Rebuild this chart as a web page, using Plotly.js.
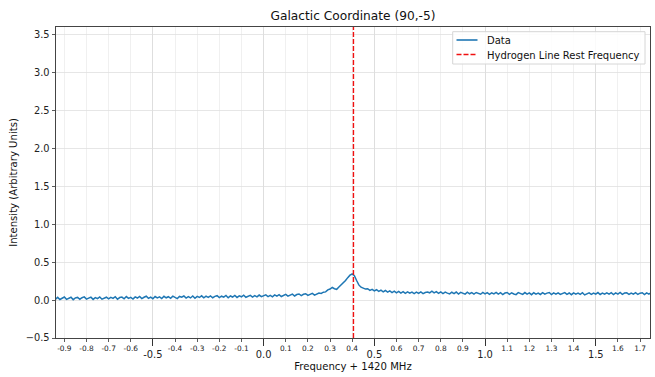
<!DOCTYPE html>
<html><head><meta charset="utf-8">
<script src="https://cdn.plot.ly/plotly-3.0.1.min.js"></script>
<style>html,body{margin:0;padding:0;background:#fff}#chart{width:655px;height:377px}</style>
</head><body><div id="chart"></div>
<script>
// Frequency offsets (MHz, relative to 1420 MHz): channel start and spacing
const freqStart = -0.94;
const freqStep = 0.01;
// Intensity (arbitrary units)
const intensity = [
0.012,0.036,0.008,0.030,0.040,0.010,0.026,0.037,0.006,0.029,
0.035,0.011,0.031,0.042,0.013,0.027,0.039,0.009,0.033,0.018,
0.041,0.012,0.029,0.038,0.015,0.035,0.022,0.044,0.011,0.033,
0.039,0.017,0.046,0.023,0.035,0.013,0.042,0.027,0.048,0.019,
0.037,0.051,0.022,0.040,0.018,0.047,0.029,0.043,0.021,0.050,
0.030,0.044,0.023,0.052,0.035,0.020,0.048,0.037,0.054,0.027,
0.045,0.028,0.053,0.024,0.049,0.034,0.056,0.030,0.051,0.036,
0.054,0.031,0.049,0.058,0.033,0.051,0.038,0.060,0.030,0.054,
0.040,0.061,0.035,0.056,0.043,0.064,0.037,0.055,0.062,0.040,
0.058,0.042,0.066,0.045,0.060,0.068,0.046,0.063,0.043,0.069,
0.051,0.072,0.047,0.066,0.075,0.052,0.069,0.078,0.054,0.073,
0.080,0.058,0.076,0.084,0.061,0.080,0.088,0.065,0.084,0.092,
0.088,0.104,0.108,0.134,0.146,0.166,0.150,0.142,0.172,0.198,
0.236,0.258,0.296,0.328,0.344,0.322,0.258,0.200,0.170,0.158,
0.145,0.150,0.128,0.142,0.120,0.136,0.114,0.130,0.109,0.126,
0.104,0.122,0.099,0.118,0.095,0.114,0.092,0.111,0.089,0.108,
0.091,0.106,0.086,0.104,0.088,0.107,0.085,0.100,0.106,0.096,
0.117,0.094,0.111,0.089,0.108,0.086,0.105,0.091,0.082,0.103,
0.085,0.106,0.080,0.102,0.087,0.078,0.104,0.083,0.099,0.079,
0.100,0.084,0.077,0.101,0.082,0.098,0.075,0.096,0.081,0.102,
0.078,0.097,0.073,0.093,0.100,0.076,0.095,0.080,0.072,0.098,
0.091,0.075,0.099,0.078,0.094,0.071,0.096,0.079,0.093,0.074,
0.097,0.077,0.092,0.100,0.073,0.094,0.079,0.096,0.075,0.091,
0.098,0.076,0.093,0.071,0.095,0.078,0.092,0.074,0.097,0.068,
0.080,0.096,0.075,0.093,0.078,0.099,0.074,0.092,0.077,0.095,
0.079,0.097,0.073,0.094,0.078,0.100,0.076,0.092,0.095,0.075,
0.093,0.078,0.098,0.074,0.091,0.096,0.072,0.094,0.079,0.095
];
const hydrogenLine = 0.40575;
const xRange = [-0.9376, 1.745];
const yRange = [-0.5, 3.6];
const minorTickVals = [-0.9,-0.8,-0.7,-0.6,-0.4,-0.3,-0.2,-0.1,0.1,0.2,0.3,0.4,0.6,0.7,0.8,0.9,1.1,1.2,1.3,1.4,1.6,1.7];
const minorTickText = ["-0.9","-0.8","-0.7","-0.6","-0.4","-0.3","-0.2","-0.1","0.1","0.2","0.3","0.4","0.6","0.7","0.8","0.9","1.1","1.2","1.3","1.4","1.6","1.7"];
const majorTickVals = [-0.5, 0.0, 0.5, 1.0, 1.5];
const majorTickText = ["-0.5","0.0","0.5","1.0","1.5"];
const yTickVals = [-0.5,0,0.5,1,1.5,2,2.5,3,3.5];
const yTickText = ["\u22120.5","0.0","0.5","1.0","1.5","2.0","2.5","3.0","3.5"];
const legendLabels = ["Data", "Hydrogen Line Rest Frequency"];

const freq = intensity.map((_, i) => +(freqStart + i * freqStep).toFixed(4));

const dataColor = "#1f77b4";
const lineColor = "#f01010";
const font = {family: "DejaVu Sans, sans-serif", color: "#222"};
const traces = [
  {x: freq, y: intensity, type: "scatter", mode: "lines", name: legendLabels[0],
   line: {color: dataColor, width: 1.5}, xaxis: "x", yaxis: "y"},
  {x: [hydrogenLine, hydrogenLine], y: yRange, type: "scatter", mode: "lines",
   name: legendLabels[1], xaxis: "x2", yaxis: "y",
   line: {color: lineColor, width: 1.4, dash: "5px,2px"}}
];

// manual legend (matplotlib-like compact box)
const px = v => (v - 56) / 594;
const py = v => (338 - v) / 311;
const shapes = [
  {type: "rect", xref: "paper", yref: "paper", x0: px(452.7), x1: px(645), y0: py(64), y1: py(31.7),
   line: {color: "#d6d6d6", width: 1}, fillcolor: "rgba(255,255,255,0.85)", layer: "above"},
  {type: "line", xref: "paper", yref: "paper", x0: px(456.5), x1: px(477.5), y0: py(40), y1: py(40),
   line: {color: dataColor, width: 1.6}, layer: "above"},
  {type: "line", xref: "paper", yref: "paper", x0: px(456.5), x1: px(477.5), y0: py(54.5), y1: py(54.5),
   line: {color: lineColor, width: 1.4, dash: "5px,2px"}, layer: "above"}
];
const annotations = [
  {text: legendLabels[0], xref: "paper", yref: "paper", x: px(484.5), y: py(40.5), xanchor: "left", yanchor: "middle",
   showarrow: false, font: {size: 10, color: "#111"}},
  {text: legendLabels[1], xref: "paper", yref: "paper", x: px(484.5), y: py(55), xanchor: "left", yanchor: "middle",
   showarrow: false, font: {size: 10, color: "#111"}}
];

const layout = {
  width: 655, height: 377,
  margin: {l: 56, r: 5, t: 27, b: 39},
  paper_bgcolor: "#fff", plot_bgcolor: "#fff",
  font: font,
  showlegend: false,
  shapes: shapes,
  annotations: annotations,
  title: {text: "Galactic Coordinate (90,-5)", font: {size: 12.2, family: font.family, color: "#111"},
          x: 0.539, xanchor: "center", y: 0.958, yanchor: "middle"},
  xaxis: {range: xRange, tickmode: "array", tickvals: minorTickVals, ticktext: minorTickText,
          tickfont: {size: 7.4, color: "#222"}, ticks: "outside", ticklen: 3, tickwidth: 0.8, tickcolor: "#333",
          showgrid: true, gridcolor: "#ececec", gridwidth: 0.8, zeroline: false,
          showline: true, linecolor: "#444", linewidth: 1, mirror: true,
          title: {text: "Frequency + 1420 MHz", font: {size: 10.1, color: "#111"}, standoff: 11}},
  xaxis2: {range: xRange, overlaying: "x", side: "bottom", anchor: "y", tickmode: "array",
           tickvals: majorTickVals, ticktext: majorTickText,
           tickfont: {size: 9.9, color: "#222"}, ticks: "outside", ticklen: 7, tickwidth: 1, tickcolor: "#333",
           showgrid: true, gridcolor: "#dedede", gridwidth: 1, zeroline: false, showline: false},
  yaxis: {range: yRange, tickmode: "array", tickvals: yTickVals, ticktext: yTickText,
          tickfont: {size: 9.8, color: "#222"}, ticks: "outside", ticklen: 3.5, tickwidth: 0.8, tickcolor: "#333",
          showgrid: true, gridcolor: "#e0e0e0", gridwidth: 0.8, zeroline: false,
          showline: true, linecolor: "#444", linewidth: 1, mirror: true,
          title: {text: "Intensity (Arbitrary Units)", font: {size: 10.1, color: "#111"}, standoff: 6}}
};
Plotly.newPlot("chart", traces, layout, {staticPlot: true, displayModeBar: false});
</script></body></html>
